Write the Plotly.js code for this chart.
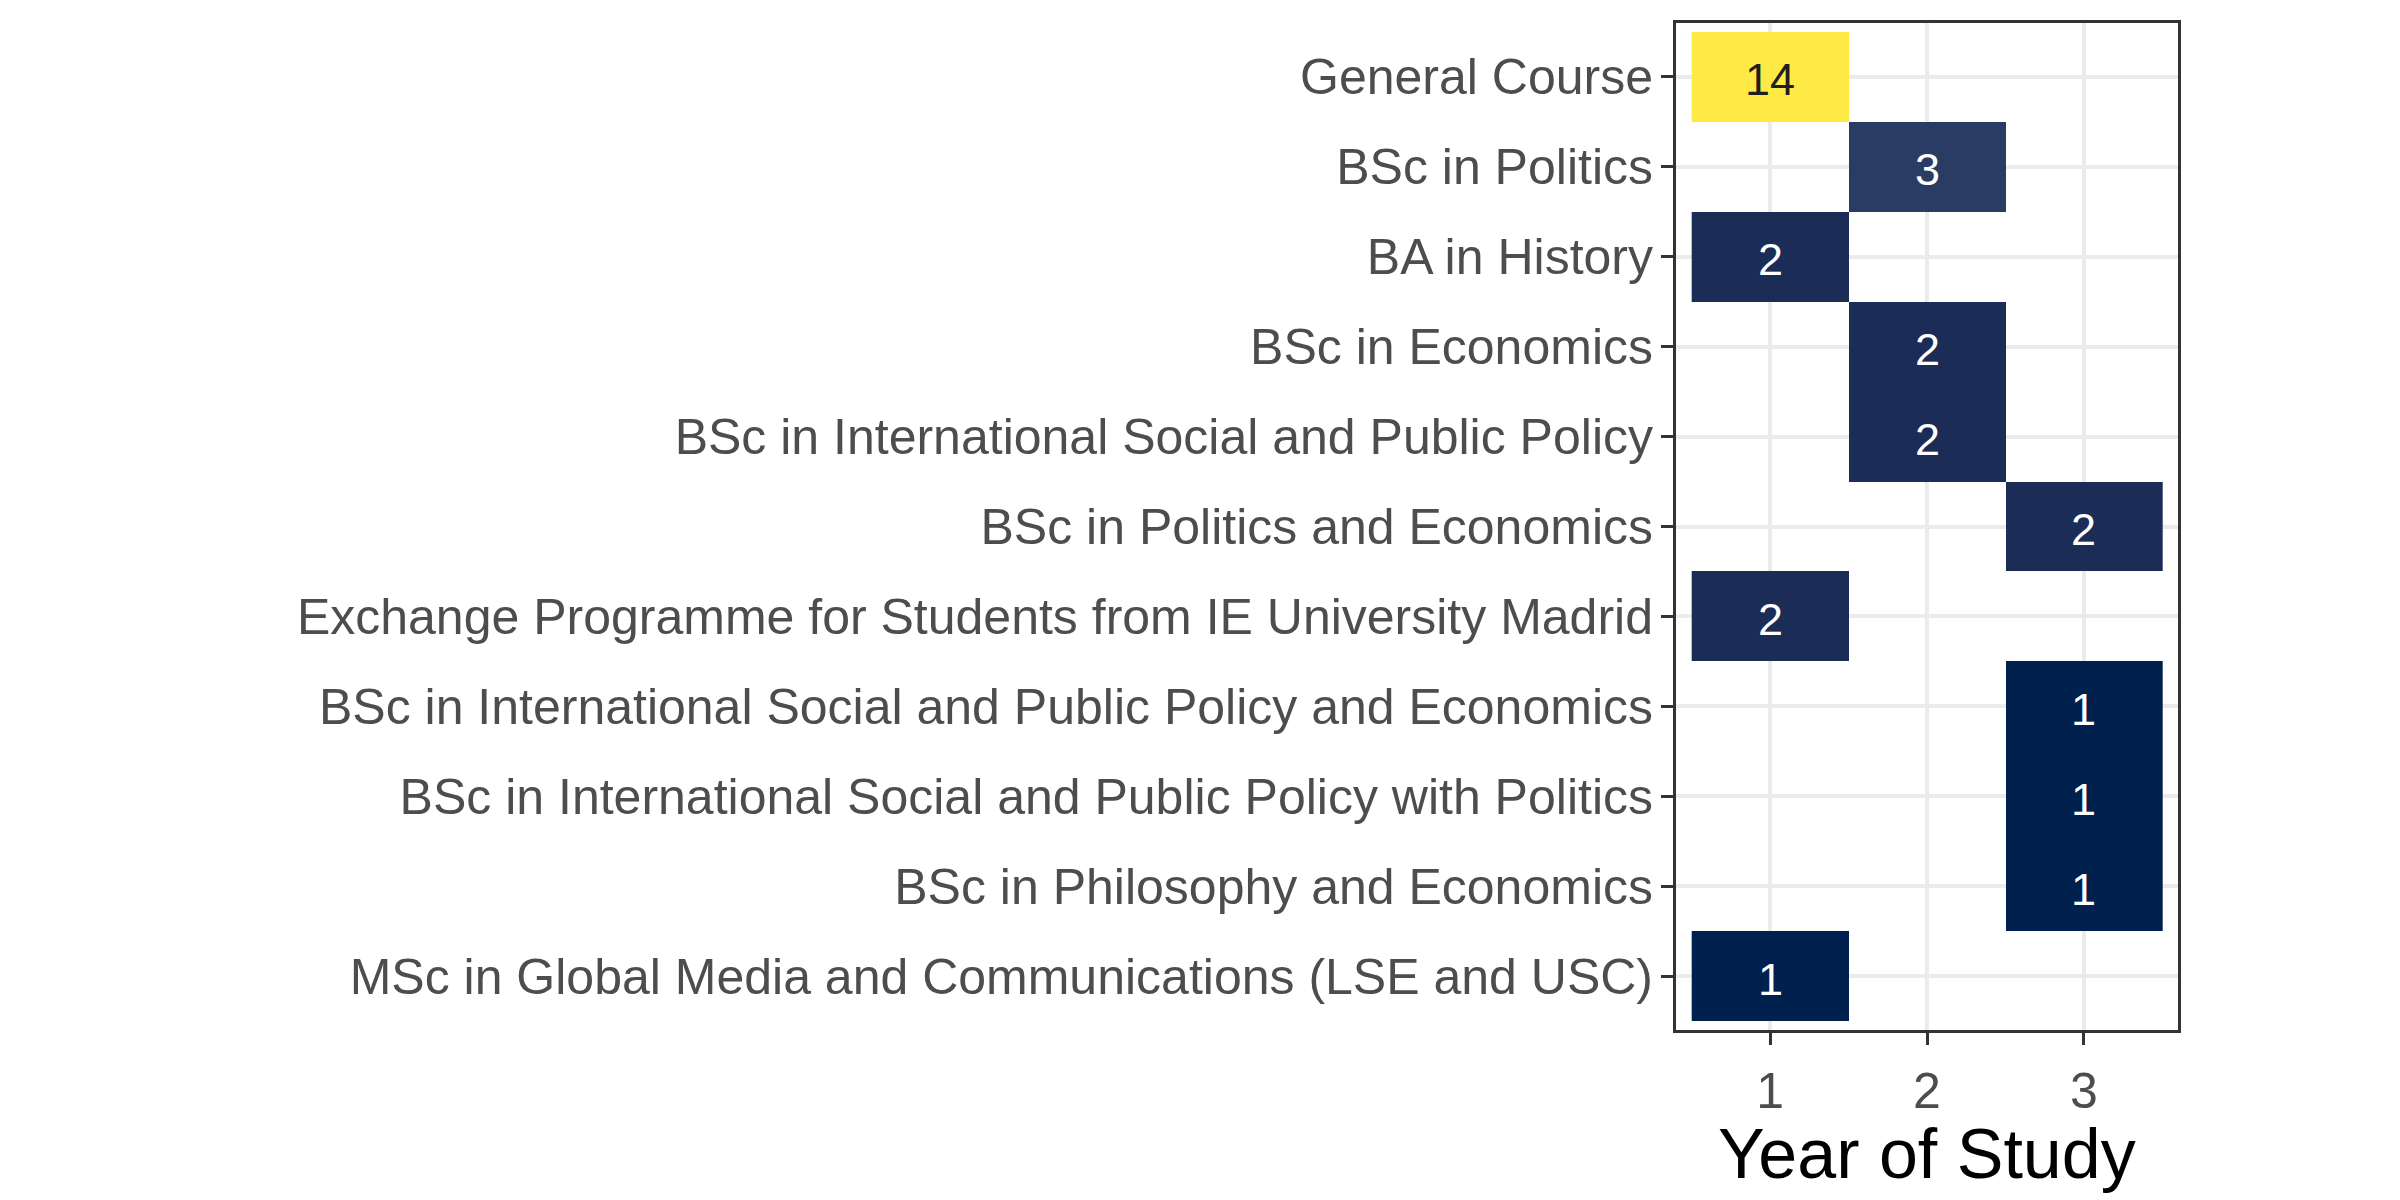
<!DOCTYPE html>
<html>
<head>
<meta charset="utf-8">
<script src="https://cdn.plot.ly/plotly-3.0.1.min.js"></script>
<style>
  html, body { margin: 0; padding: 0; background: #ffffff; }
  #chart { width: 2400px; height: 1200px; }
</style>
</head>
<body>
<div id="chart"></div>
<script>
// Programmes, top to bottom as shown
const programs = [
  "General Course",
  "BSc in Politics",
  "BA in History",
  "BSc in Economics",
  "BSc in International Social and Public Policy",
  "BSc in Politics and Economics",
  "Exchange Programme for Students from IE University Madrid",
  "BSc in International Social and Public Policy and Economics",
  "BSc in International Social and Public Policy with Politics",
  "BSc in Philosophy and Economics",
  "MSc in Global Media and Communications (LSE and USC)"
];
const years  = [1, 2, 1, 2, 2, 3, 1, 3, 3, 3, 1];
const counts = [14, 3, 2, 2, 2, 2, 2, 1, 1, 1, 1];
const yearTicks = [1, 2, 3];
const xTitle = "Year of Study";

const zMin = 1, zMax = 14;
const cividis = [
  [0.0,      "rgb(0,32,77)"],
  [1/13,     "rgb(27,45,87)"],
  [2/13,     "rgb(42,60,100)"],
  [0.30,     "rgb(68,79,107)"],
  [0.50,     "rgb(124,123,120)"],
  [0.70,     "rgb(176,166,114)"],
  [0.85,     "rgb(218,200,96)"],
  [1.0,      "rgb(255,233,69)"]
];

const font = "Liberation Sans, Arial, sans-serif";

const heat = {
  type: "heatmap",
  x: years,
  y: programs,
  z: counts,
  zmin: zMin,
  zmax: zMax,
  colorscale: cividis,
  showscale: false,
  hoverinfo: "skip"
};

const cellLabels = counts.map((c, i) => ({
  x: years[i],
  y: programs[i],
  xref: "x",
  yref: "y",
  text: String(c),
  showarrow: false,
  xanchor: "center",
  yanchor: "middle",
  yshift: -3,
  font: {
    family: font,
    size: 45,
    color: (c - zMin) / (zMax - zMin) > 0.6 ? "#1f1f1f" : "#ffffff"
  }
}));

const titleAnn = {
  x: 0.5,
  y: -0.123,
  xref: "paper",
  yref: "paper",
  xanchor: "center",
  yanchor: "middle",
  showarrow: false,
  borderpad: 0,
  text: xTitle,
  font: { family: font, size: 70, color: "#000000" }
};

const layout = {
  width: 2400,
  height: 1200,
  paper_bgcolor: "#ffffff",
  plot_bgcolor: "#ffffff",
  margin: { l: 1676, r: 222, t: 23, b: 170, pad: 0 },
  showlegend: false,
  font: { family: font, color: "#4d4d4d" },
  annotations: cellLabels.concat([titleAnn]),
  xaxis: {
    type: "linear",
    range: [0.4, 3.6],
    tickvals: yearTicks,
    ticktext: yearTicks.map(String),
    ticks: "outside",
    ticklen: 12,
    tickwidth: 3,
    tickcolor: "#333333",
    ticklabelstandoff: 3,
    tickfont: { family: font, size: 50, color: "#4d4d4d" },
    showgrid: true,
    gridcolor: "#ebebeb",
    gridwidth: 4,
    zeroline: false,
    showline: true,
    linecolor: "#333333",
    linewidth: 3,
    mirror: true,
    automargin: false
  },
  yaxis: {
    type: "category",
    categoryorder: "array",
    categoryarray: programs,
    range: [programs.length - 0.4, -0.6],
    ticks: "outside",
    ticklen: 12,
    tickwidth: 3,
    tickcolor: "#333333",
    ticklabelstandoff: -2,
    tickfont: { family: font, size: 50, color: "#4d4d4d" },
    showgrid: true,
    gridcolor: "#ebebeb",
    gridwidth: 4,
    zeroline: false,
    showline: true,
    linecolor: "#333333",
    linewidth: 3,
    mirror: true,
    automargin: false
  }
};

Plotly.newPlot("chart", [heat], layout, { staticPlot: true, displayModeBar: false });
</script>
</body>
</html>
